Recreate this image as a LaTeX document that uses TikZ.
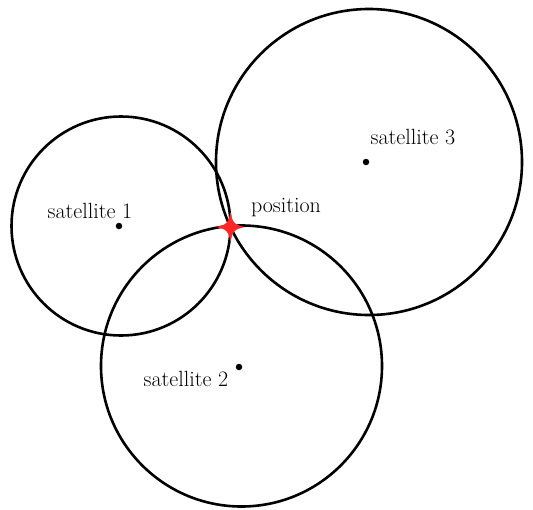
\documentclass[tikz,border=0pt]{standalone}
\begin{document}
\begin{tikzpicture}[x=1pt,y=-1pt,
  orbit/.style={draw=black,line width=2.6pt},
  sat/.style={circle,fill=black,inner sep=0pt,minimum size=6.5pt},
  lbl/.style={font=\fontsize{22}{26}\selectfont,inner sep=0pt}]
\useasboundingbox (0,0) rectangle (533,509);
\coordinate (c1) at (121,226);
\coordinate (c2) at (241.5,366);
\coordinate (c3) at (369,162);
\draw[orbit] (c1) circle (109.5);
\draw[orbit] (c2) circle (140.5);
\draw[orbit] (c3) circle (153);
\node[sat] (s1) at (119,226) {};
\node[sat] (s2) at (239,367) {};
\node[sat] (s3) at (366,162) {};
\node[lbl] (l1) at (90,211) {satellite 1};
\node[lbl] (l2) at (186,379) {satellite 2};
\node[lbl] (l3) at (413,137) {satellite 3};
\node[lbl] (lp) at (286,208) {position};
\coordinate (p) at (230.5,227);
\fill[red!85!white] (p) ++(-15,0) .. controls +(11,-2) and +(-2,11) .. ++(15,-15)
  .. controls +(2,11) and +(-11,-2) .. ++(15,15)
  .. controls +(-11,2) and +(2,-11) .. ++(-15,15)
  .. controls +(-2,-11) and +(11,2) .. ++(-15,-15) -- cycle;
\end{tikzpicture}
\end{document}
